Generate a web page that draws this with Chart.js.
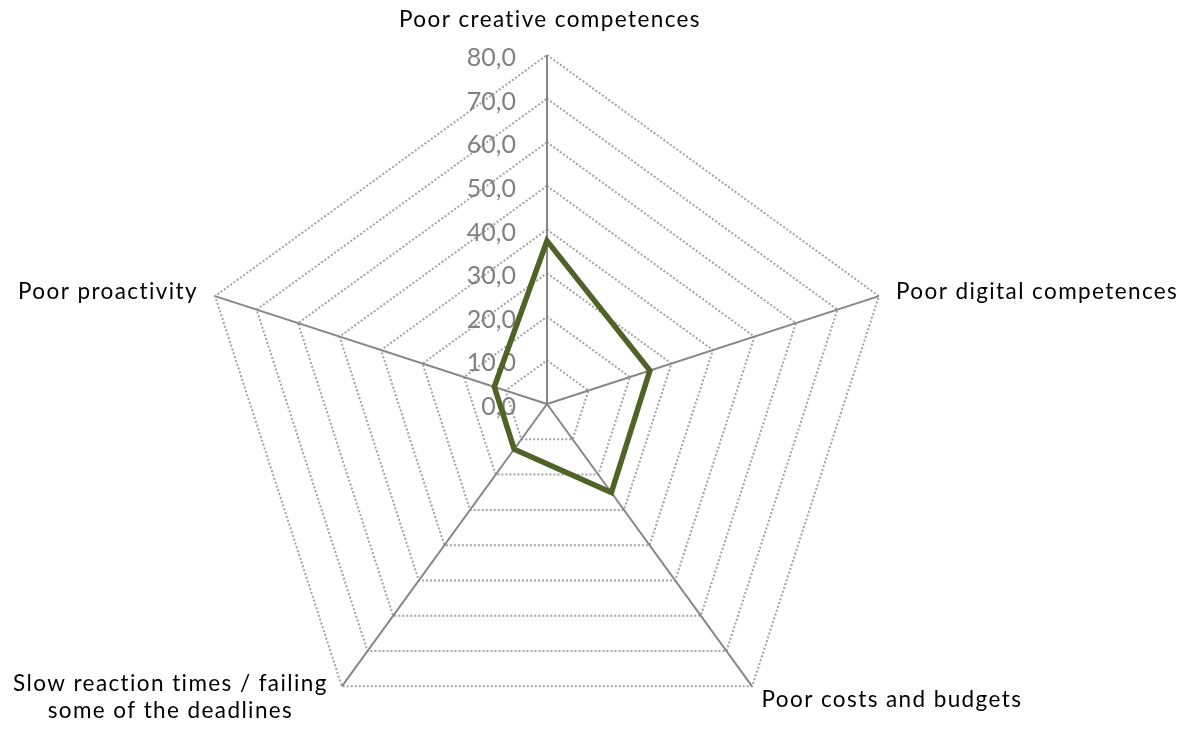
<!DOCTYPE html>
<html>
<head>
<meta charset="utf-8">
<script src="https://cdn.jsdelivr.net/npm/chart.js@4.4.1/dist/chart.umd.min.js"></script>
<style>
  html, body { margin: 0; padding: 0; background: #fff; overflow: hidden; }
  #wrap { position: relative; width: 1186px; height: 800px; }
</style>
</head>
<body>
<div id="wrap"><canvas id="radarChart"></canvas></div>
<script>
const categories = [
    'Poor creative competences',
    'Poor digital competences',
    'Poor costs and budgets',
    ['Slow reaction times / failing', 'some of the deadlines'],
    'Poor proactivity'
];
const values = [37.4, 24.8, 25.1, 12.8, 12.7];
const tickMin = 0;
const tickMax = 80;
const tickStep = 10;

const labelFont = '22.5px Lato, "Open Sans", sans-serif';
const tickFont = '25px Lato, "Open Sans", sans-serif';

// category labels, placed around the outer ring
const pointLabelPlugin = {
    id: 'pointLabelPlugin',
    afterDraw(chart) {
        const scale = chart.scales.r;
        const ctx = chart.ctx;
        ctx.save();
        ctx.font = labelFont;
        ctx.letterSpacing = '1.4px';
        ctx.fillStyle = '#000';
        const places = [
            { off: 22, align: 'center', dx: 3, dy: -13 },
            { off: 18, align: 'left', dx: 0, dy: 1 },
            { off: 16, align: 'left', dx: 0, dy: 0 },
            { off: 16, align: 'center', dx: -162, dy: -16 },
            { off: 18, align: 'right', dx: 0, dy: 1 }
        ];
        categories.forEach((label, i) => {
            const p = places[i];
            const pos = scale.getPointPosition(i, scale.drawingArea + p.off);
            const lines = Array.isArray(label) ? label : [label];
            ctx.textAlign = p.align;
            ctx.textBaseline = 'middle';
            lines.forEach((line, j) => {
                ctx.fillText(line, pos.x + p.dx, pos.y + p.dy + j * 27);
            });
        });
        ctx.restore();
    }
};

// tick values sitting just left of the vertical axis, under the data line
const tickLabelPlugin = {
    id: 'tickLabelPlugin',
    beforeDatasetsDraw(chart) {
        const scale = chart.scales.r;
        const ctx = chart.ctx;
        ctx.save();
        ctx.font = tickFont;
        ctx.fillStyle = '#808080';
        ctx.textAlign = 'right';
        ctx.textBaseline = 'middle';
        scale.ticks.forEach(t => {
            const d = scale.getDistanceFromCenterForValue(t.value);
            ctx.fillText(t.value.toFixed(1).replace('.', ','), scale.xCenter - 31, scale.yCenter - d + 3);
        });
        ctx.restore();
    }
};

const ctx = document.getElementById('radarChart').getContext('2d');
new Chart(ctx, {
    type: 'radar',
    data: {
        labels: categories,
        datasets: [{
            data: values,
            borderColor: '#4f6228',
            backgroundColor: 'transparent',
            borderWidth: 5.5,
            pointRadius: 0,
            fill: false,
            tension: 0
        }]
    },
    options: {
        responsive: true,
        maintainAspectRatio: false,
        animation: false,
        layout: {
            padding: { top: 55, bottom: 47, left: 198, right: 290 }
        },
        plugins: {
            legend: { display: false },
            tooltip: { enabled: false }
        },
        scales: {
            r: {
                min: tickMin,
                max: tickMax,
                ticks: { stepSize: tickStep, display: false },
                pointLabels: { display: false },
                grid: {
                    color: '#a3a3a3',
                    lineWidth: 2
                },
                border: {
                    dash: [2, 2]
                },
                angleLines: {
                    color: '#878787',
                    lineWidth: 2
                }
            }
        }
    },
    plugins: [pointLabelPlugin, tickLabelPlugin]
});
</script>
</body>
</html>
